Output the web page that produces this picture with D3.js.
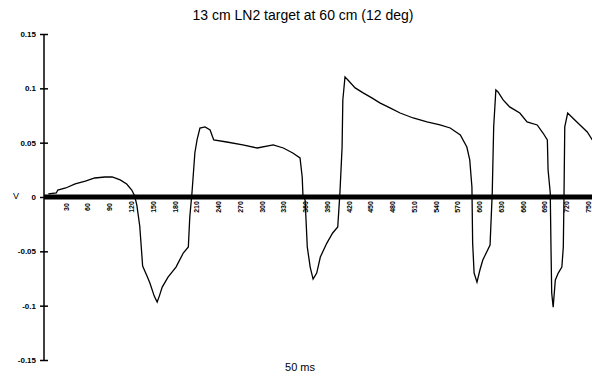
<!DOCTYPE html>
<html><head><meta charset="utf-8">
<script src="https://cdn.jsdelivr.net/npm/d3@7"></script>
<style>body{margin:0;background:#fff}svg{display:block}</style>
</head><body>
<svg id="c" width="592" height="381"></svg>
<script>
const title = "13 cm LN2 target at 60 cm (12 deg)";
const xTitle = "50 ms";
const yTitle = "V";
const yTicks = [0.15, 0.1, 0.05, 0, -0.05, -0.1, -0.15];
const yTickLabels = ["0.15", "0.1", "0.05", "0", "-0.05", "-0.1", "-0.15"];
const xTickValues = [30,60,90,120,150,180,210,240,270,300,330,360,390,420,450,480,510,540,570,600,630,660,690,720,750];
const time = [6,17,19,30,43,57,70,84,94,105,114,121,125,128,132,136,142,146,152,156,159,163,171,182,192,199,201,204,208,211,215,222,229,234,252,274,294,316,330,343,353,356,357,360,363,367,371,376,381,390,398,405,408,411,412,415,419,429,440,452,463,477,491,509,528,546,560,574,583,587,590,591,593,597,601,605,615,618,620,623,626,633,642,656,666,680,688,694,695,698,699,700,702,705,709,714,716,717,718,722,729,739,749,756];
const volts = [0.0028,0.0037,0.0064,0.0083,0.012,0.0147,0.0175,0.0184,0.0184,0.0157,0.012,0.0064,0.0009,-0.0074,-0.0267,-0.0635,-0.0727,-0.0792,-0.0912,-0.0967,-0.0912,-0.0829,-0.0737,-0.0645,-0.0516,-0.046,-0.0184,0.0037,0.0405,0.0525,0.0635,0.0645,0.0617,0.0525,0.0506,0.0479,0.0451,0.0479,0.0451,0.0405,0.0359,0.0184,0.0018,-0.0028,-0.046,-0.0645,-0.0755,-0.07,-0.0552,-0.0424,-0.0331,-0.0276,0.0037,0.046,0.0893,0.1105,0.1077,0.1004,0.0958,0.0912,0.0866,0.082,0.0773,0.0727,0.0691,0.0663,0.0635,0.0571,0.046,0.0341,0.0092,-0.0424,-0.07,-0.0783,-0.0672,-0.058,-0.0442,0.0037,0.0645,0.0985,0.0967,0.0893,0.0829,0.0773,0.0691,0.0663,0.0589,0.0525,0.0249,0.0037,-0.046,-0.0884,-0.1013,-0.0764,-0.07,-0.0645,-0.046,0.0037,0.0645,0.0773,0.0727,0.0663,0.0599,0.0525];

const svg = d3.select("#c");
const x = d3.scaleLinear().domain([0, 760]).range([44, 44 + 760 * 0.7253]);
const y = d3.scaleLinear().domain([-0.15, 0.15]).range([360, 34]);

// title
svg.append("text").attr("x", 303).attr("y", 20).attr("text-anchor", "middle")
  .attr("font-family", "Liberation Sans, Arial, sans-serif").attr("font-size", 14).text(title);

// x axis title
svg.append("text").attr("x", 300).attr("y", 371).attr("text-anchor", "middle")
  .attr("font-family", "Liberation Sans, Arial, sans-serif").attr("font-size", 11).text(xTitle);

// y title
svg.append("text").attr("x", 16).attr("y", 199).attr("text-anchor", "middle")
  .attr("font-family", "Liberation Sans, Arial, sans-serif").attr("font-size", 9).text(yTitle);

// y axis
const yAxis = d3.axisLeft(y).tickValues(yTicks).tickSize(4)
  .tickFormat((d, i) => yTickLabels[i]);
const gy = svg.append("g").attr("transform", "translate(44,0)").call(yAxis);
gy.select(".domain").attr("stroke", "#000").attr("stroke-width", 1.5).attr("d", `M0,${y(0.15)}V${y(-0.15)}`);
gy.selectAll(".tick line").attr("x1", -4).attr("x2", 4).attr("stroke-width", 1.5);
gy.selectAll(".tick text").attr("x", -8).attr("font-family", "Liberation Sans, Arial, sans-serif")
  .attr("font-size", 8).attr("font-weight", "bold");

// x axis (category labels, rotated)
const xAxis = d3.axisBottom(x).tickValues(xTickValues).tickSize(0).tickFormat(d3.format("d"));
const gx = svg.append("g").attr("transform", `translate(0,${y(0)})`).call(xAxis);
gx.select(".domain").remove();
gx.selectAll(".tick text")
  .attr("font-family", "Liberation Sans, Arial, sans-serif").attr("font-size", 7).attr("font-weight", "bold")
  .attr("transform", "rotate(-90)").attr("x", -10).attr("y", 0).attr("dy", "0.35em")
  .attr("text-anchor", "middle");

// zero line (thick)
svg.append("line").attr("x1", 44).attr("x2", 592).attr("y1", y(0)).attr("y2", y(0))
  .attr("stroke", "#000").attr("stroke-width", 5);

// trace
const pts = time.map((t, i) => [t, volts[i]]);
const line = d3.line().x(d => x(d[0])).y(d => y(d[1]));
svg.append("path").datum(pts).attr("d", line).attr("fill", "none")
  .attr("stroke", "#000").attr("stroke-width", 1.3);
</script>
</body></html>
